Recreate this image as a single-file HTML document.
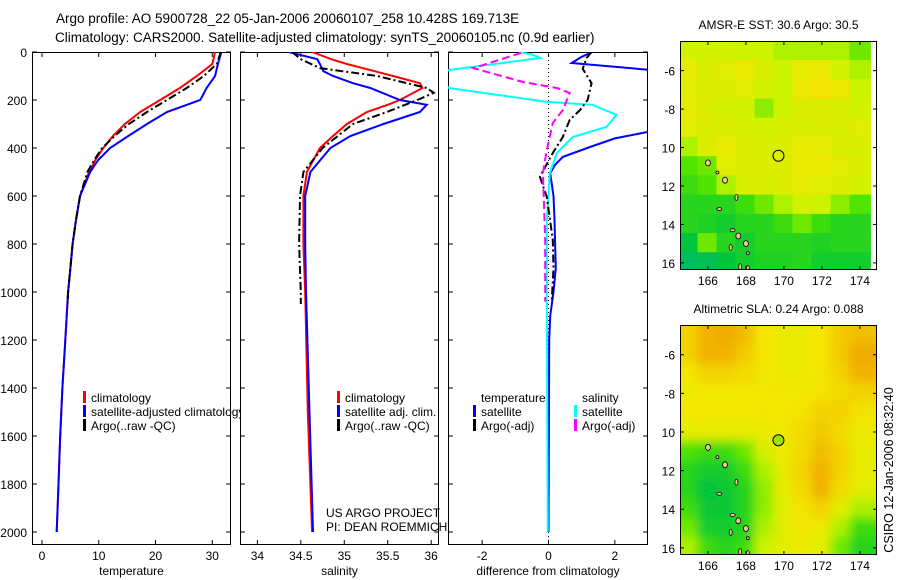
<!DOCTYPE html>
<html><head><meta charset="utf-8">
<style>
html,body{margin:0;padding:0;background:#fff;}
svg{display:block;font-family:"Liberation Sans",sans-serif;}
</style></head>
<body>
<svg id="fig" width="900" height="580" viewBox="0 0 900 580" xmlns="http://www.w3.org/2000/svg">
<defs><filter id="smooth" x="-5%" y="-5%" width="110%" height="110%"><feGaussianBlur stdDeviation="5"/></filter></defs>
<text x="56" y="23" font-size="13.5">Argo profile: AO 5900728_22 05-Jan-2006 20060107_258 10.428S 169.713E</text>
<text x="55" y="42" font-size="13.5">Climatology: CARS2000. Satellite-adjusted climatology: synTS_20060105.nc (0.9d earlier)</text>
<text transform="translate(893,470) rotate(-90)" text-anchor="middle" font-size="12.5">CSIRO 12-Jan-2006 08:32:40</text>
</svg>
<script>
// ---------- profile data ----------
const depthTicks = [0,200,400,600,800,1000,1200,1400,1600,1800,2000];
const tempTicks = [0,10,20,30];
const salTicks = [34,34.5,35,35.5,36];
const diffTicks = [-2,0,2];

const tempDepth = [0,50,100,150,200,250,300,350,400,450,500,600,700,800,900,1000,1200,1400,1600,1800,2000];
const tempClim = [30.5,30.0,27.3,24.3,20.8,17.3,14.6,12.5,10.8,9.4,8.3,6.7,6.0,5.4,5.0,4.6,4.1,3.6,3.2,2.9,2.6];
const tempSat = [31.6,31.0,30.5,29.0,27.9,22.0,18.5,15.2,12.0,9.9,8.5,6.7,6.0,5.4,5.0,4.6,4.1,3.6,3.2,2.9,2.6];
const argoTempDepth = [0,50,100,150,200,250,300,350,400,450,500,600,700,800,900,1000,1050];
const tempArgo = [31.5,30.8,28.5,25.5,22.0,18.5,15.3,12.8,10.6,9.2,8.0,6.7,6.0,5.4,5.0,4.6,4.5];

const salDepth = [0,30,50,80,100,130,150,200,220,250,300,350,400,500,600,800,1000,1500,2000];
const salClim = [34.63,34.85,35.03,35.35,35.56,35.87,35.9,35.64,35.5,35.26,35.03,34.87,34.72,34.57,34.53,34.53,34.55,34.58,34.63];
const salSat = [34.36,34.69,34.72,34.76,34.87,35.1,35.3,35.64,35.95,35.87,35.45,35.07,34.84,34.61,34.55,34.55,34.56,34.6,34.64];
const argoSalDepth = [0,30,67,100,150,170,200,250,300,400,500,600,800,1000,1050];
const salArgo = [34.4,34.5,34.72,35.38,35.95,36.03,35.84,35.49,35.1,34.75,34.53,34.49,34.48,34.5,34.5];

const dTempSatDepth = [0,20,46,75,100,200,300,333,360,396,437,470,505,600,700,800,900,1000,1100,1200,2000];
const dTempSat = [1.33,1.0,0.7,3.1,3.2,8,4.5,3.0,2.0,1.25,0.43,0.2,0.05,0.15,0.18,0.2,0.22,0.15,0.05,0.02,0.0];
const dTempArgoDepth = [0,25,70,130,200,242,283,354,421,520,604,783,900,1033,1045];
const dTempArgo = [1.3,1.15,1.03,1.3,1.18,0.95,0.64,0.43,0.13,-0.26,-0.05,0.13,0.15,0.1,0.1];
const dSalSatDepth = [0,10,25,75,110,150,208,220,262,312,354,421,505,700,1000,2000];
const dSalSat = [-0.9,-0.5,-0.25,-3.0,-3.5,-3.0,-0.05,1.33,2.05,1.75,0.73,0.25,0.04,-0.05,-0.05,-0.02];
const dSalArgoDepth = [0,5,54,67,125,150,171,242,296,408,505,783,979,1040];
const dSalArgo = [-0.86,-0.86,-1.97,-2.27,-0.77,0.25,0.64,0.43,0.13,-0.05,-0.17,-0.1,-0.1,-0.1];

// ---------- map data (rows lat -5..-16, cols lon 165..174) ----------
const mapLats = [-5,-6,-7,-8,-9,-10,-11,-12,-13,-14,-15,-16];
const mapLons = [165,166,167,168,169,170,171,172,173,174];
const lonTicks = [166,168,170,172,174];
const latTicks = [-6,-8,-10,-12,-14,-16];
const latTickLabels = ["-6","-8","10","12","14","16"];
const sstRows = [
[.62,.62,.62,.6,.6,.55,.55,.55,.55,.45],
[.7,.65,.68,.72,.65,.6,.7,.72,.62,.55],
[.68,.66,.66,.68,.62,.6,.72,.76,.72,.6],
[.7,.66,.62,.62,.5,.6,.66,.66,.64,.62],
[.68,.66,.66,.64,.62,.64,.64,.66,.64,.68],
[.55,.66,.7,.66,.64,.66,.7,.7,.66,.64],
[.4,.45,.68,.66,.66,.66,.72,.72,.68,.66],
[.35,.4,.55,.64,.64,.66,.7,.68,.66,.62],
[.3,.3,.3,.35,.45,.55,.62,.6,.5,.4],
[.3,.28,.25,.3,.3,.35,.45,.35,.3,.3],
[.2,.45,.3,.25,.3,.3,.3,.28,.3,.3],
[.12,.15,.2,.25,.28,.28,.3,.25,.25,.25]];
const slaRows = [
[.8,.88,.9,.85,.75,.72,.72,.75,.82,.85],
[.8,.88,.88,.82,.75,.72,.72,.75,.82,.9],
[.75,.8,.8,.78,.74,.72,.72,.74,.8,.88],
[.72,.74,.74,.74,.74,.74,.74,.76,.78,.8],
[.75,.74,.74,.74,.74,.75,.76,.8,.8,.76],
[.68,.7,.7,.7,.72,.74,.78,.82,.78,.72],
[.4,.35,.35,.45,.65,.72,.78,.85,.8,.7],
[.3,.25,.25,.35,.55,.7,.8,.88,.8,.7],
[.3,.2,.22,.3,.5,.7,.78,.88,.78,.68],
[.35,.22,.22,.3,.5,.68,.76,.8,.68,.55],
[.45,.25,.25,.3,.55,.68,.74,.72,.55,.35],
[.55,.35,.3,.35,.6,.68,.72,.68,.45,.3]];
const argoLon = 169.713, argoLat = -10.428;
const islandLons = [166.0,166.5,166.9,167.5,166.6,167.2,167.6,168.1,168.0,167.7,167.3,168.1];
const islandLats = [-10.8,-11.3,-11.7,-12.6,-13.2,-15.2,-14.6,-15.5,-15.0,-16.2,-14.3,-16.3];

const svg = document.getElementById('fig');
const NS = 'http://www.w3.org/2000/svg';
function mk(tag, attrs, parent){const e=document.createElementNS(NS,tag);for(const k in attrs)e.setAttribute(k,attrs[k]);(parent||svg).appendChild(e);return e;}

const yTop=52, yBot=545, pxPerM=0.24;
const yD = d => yTop + d*pxPerM;
const panels = [
 {name:'temperature-panel', x0:32, x1:231, dom:[-1.76,33.3], ticks:tempTicks, label:'temperature'},
 {name:'salinity-panel', x0:240, x1:439, dom:[33.8,36.09], ticks:salTicks, label:'salinity'},
 {name:'difference-panel', x0:448, x1:648, dom:[-3.03,3.0], ticks:diffTicks, label:'difference from climatology'}
];
panels.forEach((p,i)=>{
  p.sx = v => p.x0 + (v-p.dom[0])/(p.dom[1]-p.dom[0])*(p.x1-p.x0);
  const cp = mk('clipPath',{id:'clip'+i});
  mk('rect',{x:p.x0,y:yTop,width:p.x1-p.x0,height:yBot-yTop},cp);
});

function line(p, depths, vals, color, name, dash, w){
  const pts = depths.map((d,k)=>p.sx(vals[k]).toFixed(1)+','+yD(d).toFixed(1)).join(' ');
  const el = mk('polyline',{points:pts,fill:'none',stroke:color,'stroke-width':w||2,'clip-path':'url(#clip'+panels.indexOf(p)+')'});
  if(dash) el.setAttribute('stroke-dasharray',dash);
  
  
}

panels.forEach((p,i)=>{
  const g = mk('g',{});
  
  
  const fr = mk('rect',{x:p.x0+0.5,y:yTop+0.5,width:p.x1-p.x0-1,height:yBot-yTop-1,fill:'none',stroke:'#000','stroke-width':1},g);
  
  
  depthTicks.forEach(d=>{
    mk('line',{x1:p.x0,x2:p.x0+5,y1:yD(d),y2:yD(d),stroke:'#000'},g);
    mk('line',{x1:p.x1-5,x2:p.x1,y1:yD(d),y2:yD(d),stroke:'#000'},g);
  });
  p.ticks.forEach(t=>{
    const x=p.sx(t);
    mk('line',{x1:x,x2:x,y1:yBot-5,y2:yBot,stroke:'#000'},g);
    mk('line',{x1:x,x2:x,y1:yTop,y2:yTop+5,stroke:'#000'},g);
    const tx = mk('text',{x:x,y:yBot+15,'text-anchor':'middle','font-size':12},g);
    tx.textContent = t;
    
    
  });
  const lb = mk('text',{x:(p.x0+p.x1)/2,y:575,'text-anchor':'middle','font-size':12},g);
  lb.textContent = p.label;
  
  
});
depthTicks.forEach(d=>{
  const t = mk('text',{x:27,y:yD(d)+5,'text-anchor':'end','font-size':12});
  t.textContent = d;
  
  
});

const [P1,P2,P3] = panels;
const zl = mk('line',{x1:P3.sx(0),x2:P3.sx(0),y1:yTop,y2:yBot,stroke:'#000','stroke-dasharray':'1,3'});



line(P1,tempDepth,tempClim,'#ff0000','temp-climatology-line');
line(P1,tempDepth,tempSat,'#0000ff','temp-satellite-line');
line(P1,argoTempDepth,tempArgo,'#000000','temp-argo-line','8,3,2,3');
line(P2,salDepth,salClim,'#ff0000','sal-climatology-line');
line(P2,salDepth,salSat,'#0000ff','sal-satellite-line');
line(P2,argoSalDepth,salArgo,'#000000','sal-argo-line','8,3,2,3');
line(P3,dTempSatDepth,dTempSat,'#0000ff','diff-temp-satellite-line');
line(P3,dSalSatDepth,dSalSat,'#00ffff','diff-sal-satellite-line');
line(P3,dTempArgoDepth,dTempArgo,'#000000','diff-temp-argo-line','8,3,2,3');
line(P3,dSalArgoDepth,dSalArgo,'#ff00ff','diff-sal-argo-line','8,4');

function legend(x,y,color,text,name,clip){
  if(color){const m=mk('rect',{x:x-8,y:y-11,width:3,height:12,fill:color});
    
    }
  const t=mk('text',{x:x,y:y,'font-size':12});
  if(clip) t.setAttribute('clip-path',clip);
  t.textContent=text;
  
  
}
const lc = mk('clipPath',{id:'legclip'}); mk('rect',{x:0,y:0,width:240,height:580},lc);
legend(91,402,'#ff0000','climatology','legend-climatology');
legend(91,416,'#0000ff','satellite-adjusted climatology','legend-satellite-adjusted','url(#legclip)');
legend(91,430,'#000000','Argo(..raw -QC)','legend-argo');
legend(345,402,'#ff0000','climatology','legend-sal-climatology');
legend(345,416,'#0000ff','satellite adj. clim.','legend-sal-satellite');
legend(345,430,'#000000','Argo(..raw -QC)','legend-sal-argo');
legend(326,517,null,'US ARGO PROJECT','credit-project');
legend(326,531,null,'PI: DEAN ROEMMICH','credit-pi');
legend(481,402,null,'temperature','legend-temperature-heading');
legend(582,402,null,'salinity','legend-salinity-heading');
legend(481,416,'#0000ff','satellite','legend-diff-temp-satellite');
legend(481,430,'#000000','Argo(-adj)','legend-diff-temp-argo');
legend(582,416,'#00ffff','satellite','legend-diff-sal-satellite');
legend(582,430,'#ff00ff','Argo(-adj)','legend-diff-sal-argo');

// ---------- maps ----------
const stops=[[0,[0,176,150]],[0.2,[0,196,60]],[0.4,[80,228,0]],[0.6,[204,244,0]],[0.75,[244,230,0]],[0.9,[240,170,0]],[1,[224,124,0]]];
function cmap(v){
  for(let i=1;i<stops.length;i++){ if(v<=stops[i][0]){const a=stops[i-1],b=stops[i],t=(v-a[0])/(b[0]-a[0]);
    return 'rgb('+a[1].map((c,k)=>Math.round(c+(b[1][k]-c)*t)).join(',')+')';}}
  return 'rgb(224,124,0)';
}
function drawMap(y0,y1,rows,title,name,fillMarker,smooth){
  const x0=680,x1=877,lon0=164.53,lon1=174.9,lat0=-4.46,lat1=-16.37;
  const sx=l=>x0+(l-lon0)/(lon1-lon0)*(x1-x0), sy=l=>y0+(l-lat0)/(lat1-lat0)*(y1-y0);
  const g=mk('g',{});
  
  
  const cid='mc'+name; const cp=mk('clipPath',{id:cid}); mk('rect',{x:x0,y:y0,width:x1-x0,height:y1-y0},cp);
  const cg=mk('g',{'clip-path':'url(#'+cid+')'},g);
  const fg=mk('g',smooth?{filter:'url(#smooth)'}:{},cg);
  rows.forEach((row,r)=>row.forEach((v,c)=>{
    const la=mapLats[r], lo=mapLons[c];
    const ext = smooth ? 1.5 : 0.55;
    const left = c===0?ext:0.55, right = c===row.length-1?ext:0.55, top = r===0?ext:0.55, bot = r===rows.length-1?ext:0.55;
    const xa=sx(lo-left), xb=sx(lo+right), ya=sy(la+top), yb=sy(la-bot);
    const cell=mk('rect',{x:xa.toFixed(1),y:ya.toFixed(1),width:(xb-xa+0.5).toFixed(1),height:(yb-ya+0.5).toFixed(1),fill:cmap(v)},fg);
    
    
  }));
  islandLons.forEach((lo,k)=>{
    const is=mk('ellipse',{cx:sx(lo),cy:sy(islandLats[k]),rx:k%2?1.5:2.5,ry:k%3==1?1.5:3,fill:'#f6c49a',stroke:'#000','stroke-width':0.8},cg);
    
    
  });
  mk('rect',{x:x0+0.5,y:y0+0.5,width:x1-x0-1,height:y1-y0-1,fill:'none',stroke:'#000'},g);
  lonTicks.forEach(l=>{const x=sx(l);
    mk('line',{x1:x,x2:x,y1:y0,y2:y0+4,stroke:'#000'},g);mk('line',{x1:x,x2:x,y1:y1-4,y2:y1,stroke:'#000'},g);
    const t=mk('text',{x:x,y:y1+15,'text-anchor':'middle','font-size':12},g);t.textContent=l;
    
    });
  latTicks.forEach((l,k)=>{const y=sy(l);
    mk('line',{x1:x0,x2:x0+4,y1:y,y2:y,stroke:'#000'},g);mk('line',{x1:x1-4,x2:x1,y1:y,y2:y,stroke:'#000'},g);
    const t=mk('text',{x:675,y:y+5,'text-anchor':'end','font-size':12},g);t.textContent=latTickLabels[k];
    
    });
  const mrk=mk('circle',{cx:sx(argoLon),cy:sy(argoLat),r:5.5,fill:fillMarker,stroke:'#000','stroke-width':1},g);
  
  
  const tt=mk('text',{x:(x0+x1)/2,y:y0-12,'text-anchor':'middle','font-size':12},g);tt.textContent=title;
  
  
}
drawMap(41,270,sstRows,'AMSR-E SST: 30.6 Argo: 30.5','sst-map','none',false);
drawMap(325,555,slaRows,'Altimetric SLA: 0.24 Argo: 0.088','sla-map','#9be000',true);
</script>
</body></html>
